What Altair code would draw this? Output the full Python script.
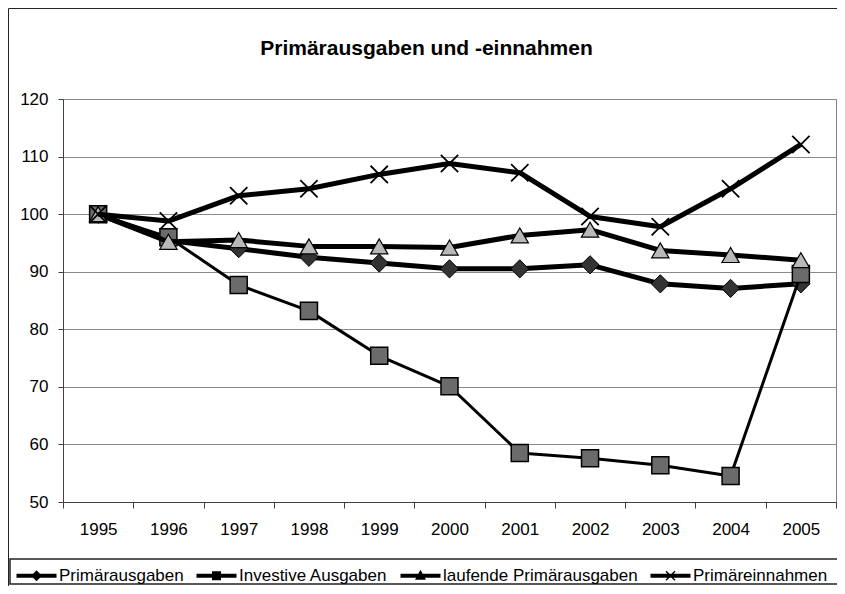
import altair as alt
import pandas as pd

# ---------------- data ----------------
years = ["1995", "1996", "1997", "1998", "1999", "2000",
         "2001", "2002", "2003", "2004", "2005"]
series_names = ["Primärausgaben", "Investive Ausgaben",
                "laufende Primärausgaben", "Primäreinnahmen"]
primaerausgaben = [100.0, 95.4, 94.0, 92.5, 91.5, 90.5, 90.5, 91.2, 87.9, 87.1, 87.9]
investive_ausgaben = [100.0, 96.0, 87.7, 83.2, 75.4, 70.1, 58.5, 57.6, 56.4, 54.5, 89.6]
laufende_primaerausgaben = [100.0, 95.2, 95.5, 94.4, 94.4, 94.2, 96.3, 97.3, 93.7, 92.9, 92.0]
primaereinnahmen = [100.0, 98.8, 103.2, 104.4, 106.9, 108.8, 107.2, 99.6, 97.8, 104.4, 112.1]
y_ticks = [50, 60, 70, 80, 90, 100, 110, 120]
title_text = "Primärausgaben und -einnahmen"

series_values = [primaerausgaben, investive_ausgaben,
                 laufende_primaerausgaben, primaereinnahmen]
rows = []
for name, vals in zip(series_names, series_values):
    for yr, v in zip(years, vals):
        rows.append({"Jahr": yr, "Wert": v, "Reihe": name})
df = pd.DataFrame(rows)

# ---------------- layout ----------------
W, H = 773, 403
PAD_L, PAD_T, PAD_R = 55, 91, 1
SVG_H = 578
PAD_B = SVG_H - PAD_T - H
FONT = "Liberation Sans"

x_enc = alt.X("Jahr:O", sort=years,
              scale=alt.Scale(type="band", paddingInner=0, paddingOuter=0),
              axis=alt.Axis(title=None, labelAngle=0, tickBand="extent",
                            tickSize=6, labelPadding=13, grid=False))
y_enc = alt.Y("Wert:Q",
              scale=alt.Scale(domain=[50, 120], nice=False, zero=False),
              axis=alt.Axis(title=None, values=y_ticks, tickSize=5,
                            labelPadding=10, grid=True))

X_PATH = "M-1,-1L1,1M-1,1L1,-1"
styles = {
    "Primärausgaben": dict(lw=5, mark=dict(shape="diamond", size=330, filled=True,
                                           fill="#333333", stroke="black", strokeWidth=1)),
    "Investive Ausgaben": dict(lw=3, mark=dict(shape="square", size=290, filled=True,
                                               fill="#6b6b6b", stroke="black", strokeWidth=1.5)),
    "laufende Primärausgaben": dict(lw=5, mark=dict(shape="triangle-up", size=300, filled=True,
                                                    fill="#b8b8b8", stroke="black", strokeWidth=1.2)),
    "Primäreinnahmen": dict(lw=5, mark=dict(shape=X_PATH, size=300, filled=False,
                                            stroke="black", strokeWidth=1.8)),
}

layers = []

# decoration: legend box, outer border, title
deco = pd.DataFrame({"k": [0]})
legend_box = alt.Chart(deco).mark_rect(filled=False, stroke="#222222", strokeWidth=1.5).encode(
    x=alt.value(-53), x2=alt.value(W + 20), y=alt.value(460), y2=alt.value(485))
border_top = alt.Chart(deco).mark_rule(color="#222222", strokeWidth=1).encode(
    x=alt.value(0.5 - PAD_L), x2=alt.value(W + 20), y=alt.value(0.5 - PAD_T))
border_left = alt.Chart(deco).mark_rule(color="#222222", strokeWidth=1).encode(
    x=alt.value(0.5 - PAD_L), y=alt.value(0.5 - PAD_T), y2=alt.value(SVG_H - PAD_T))
title = alt.Chart(deco).mark_text(text=title_text, font=FONT, fontSize=21, fontWeight="bold",
                                  color="black", align="center", baseline="alphabetic").encode(
    x=alt.value(363.5), y=alt.value(-44))
layers += [legend_box, border_top, border_left, title]

for name in series_names:
    st = styles[name]
    base = alt.Chart(df).transform_filter(alt.datum.Reihe == name)
    line = base.mark_line(color="black", strokeWidth=st["lw"], strokeJoin="round").encode(
        x=x_enc, y=y_enc)
    pts = base.mark_point(opacity=1, **st["mark"]).encode(x=x_enc, y=y_enc)
    layers += [line, pts]

# legend symbols: line with marker
LINE = "M-4,-0.4L4,-0.4L4,0.4L-4,0.4Z"
legend_paths = [
    LINE + "M0,-1.1L1.1,0L0,1.1L-1.1,0Z",
    LINE + "M-0.9,-0.9L0.9,-0.9L0.9,0.9L-0.9,0.9Z",
    LINE + "M0,-1.2L1.1,0.8L-1.1,0.8Z",
    LINE + "M-1,-0.8L-0.8,-1L1,0.8L0.8,1ZM0.8,-1L1,-0.8L-0.8,1L-1,0.8Z",
]
legend_layer = alt.Chart(df).transform_filter("false").mark_point(
    filled=True, color="black", opacity=1).encode(
    x=x_enc, y=y_enc,
    shape=alt.Shape("Reihe:N",
                    scale=alt.Scale(domain=series_names, range=legend_paths),
                    legend=alt.Legend(orient="none", legendX=-35, legendY=468,
                                      direction="horizontal", columns=4, title=None,
                                      labelFont=FONT, labelFontSize=17, labelColor="black",
                                      symbolSize=100, symbolFillColor="black",
                                      symbolStrokeColor="black", symbolStrokeWidth=0,
                                      symbolOpacity=1, labelOffset=14, columnPadding=12,
                                      padding=0, labelLimit=400)))
layers.append(legend_layer)

chart = alt.layer(*layers).properties(
    width=W, height=H,
    autosize=alt.AutoSizeParams(type="none"),
    padding={"left": PAD_L, "top": PAD_T, "right": PAD_R, "bottom": PAD_B},
    background="white",
).configure_view(
    stroke="#808080", strokeWidth=1
).configure_axis(
    domainColor="#404040", tickColor="#404040", gridColor="#8a8a8a", gridWidth=1,
    labelFont=FONT, labelFontSize=17, labelColor="black", domainWidth=1
)

chart.save("out.html", embed_options={"renderer": "svg", "actions": False})
